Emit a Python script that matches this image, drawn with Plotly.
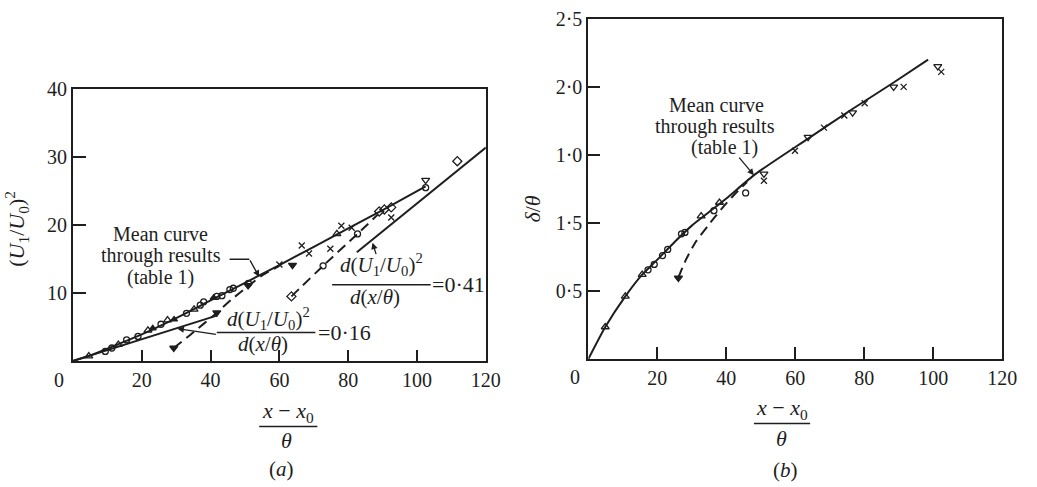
import plotly.graph_objects as go

# ---------------- Panel (a): (U1/U0)^2 vs (x-x0)/theta ----------------
a_mean_x = [0, 5, 10, 20, 30, 40, 50, 60, 70, 80, 90, 102.5]
a_mean_y = [0, 0.8, 1.8, 3.9, 6.3, 8.9, 11.5, 14.1, 16.8, 19.5, 22.2, 25.7]
a_s016_x = [0, 42]
a_s016_y = [0, 6.7]
a_s041_x = [82.5, 120]
a_s041_y = [16.0, 31.4]
a_dash1_x = [29.3, 35.2, 40.9, 46, 50.9, 55, 60]
a_dash1_y = [1.9, 4.3, 6.7, 9.0, 11.0, 12.6, 14.0]
a_dash2_x = [63.5, 72.7, 82.7, 88.5]
a_dash2_y = [9.5, 14.0, 18.7, 21.5]

a_circ_x = [9.4, 11.3, 15.6, 18.9, 25.6, 33.0, 37.0, 38.0, 41.8, 43.3, 45.6, 46.6, 51.0, 72.7, 82.7, 102.5]
a_circ_y = [1.4, 1.9, 3.1, 3.6, 5.4, 7.0, 8.2, 8.7, 9.5, 9.6, 10.5, 10.7, 11.4, 14.0, 18.7, 25.5]
a_tri_x = [4.6, 13.2, 21.8, 27.5, 35.2, 76.7]
a_tri_y = [0.7, 2.4, 4.5, 6.0, 7.6, 18.7]
a_trif_x = [23.2, 29.4, 40.9]
a_trif_y = [4.8, 6.1, 9.3]
a_tdf_x = [29.3, 41.8, 50.9, 63.8]
a_tdf_y = [1.9, 7.1, 11.1, 14.1]
a_cross_x = [60.0, 66.5, 68.6, 74.8, 78.0, 81.0, 92.5]
a_cross_y = [14.2, 17.0, 15.8, 16.5, 19.9, 19.6, 21.1]
a_tdo_x = [102.5]
a_tdo_y = [26.6]
a_diam_x = [63.5, 89.0, 90.5, 92.5, 111.7]
a_diam_y = [9.5, 22.0, 22.3, 22.6, 29.4]

# ---------------- Panel (b): delta/theta vs (x-x0)/theta ----------------
b_mean_x = [0, 4.9, 10.7, 15.6, 20, 25, 30, 35, 40, 48.5, 63.7, 76.1, 88.4, 98.5]
b_mean_y = [0, 0.235, 0.46, 0.62, 0.73, 0.86, 0.98, 1.08, 1.18, 1.36, 1.62, 1.83, 2.03, 2.2]
b_dash_x = [26.1, 28.3, 31.1, 34.7, 38.5, 42, 46]
b_dash_y = [0.6, 0.73, 0.86, 0.98, 1.1, 1.2, 1.3]

b_tri_x = [4.9, 10.7, 15.6, 32.7, 38.0]
b_tri_y = [0.235, 0.46, 0.62, 1.05, 1.15]
b_circ_x = [17.3, 19.1, 21.5, 23.0, 27.0, 28.0, 36.4, 45.6]
b_circ_y = [0.655, 0.695, 0.76, 0.805, 0.92, 0.93, 1.09, 1.22]
b_tdo_x = [50.9, 63.7, 76.6, 88.5, 101.3]
b_tdo_y = [1.36, 1.63, 1.81, 2.0, 2.15]
b_cross_x = [50.9, 59.9, 68.3, 74.2, 80.1, 91.4, 102.3]
b_cross_y = [1.31, 1.53, 1.70, 1.79, 1.88, 2.0, 2.11]
b_tdf_x = [26.1]
b_tdf_y = [0.595]

x_ticks = [0, 20, 40, 60, 80, 100, 120]
x_ticktext = ["", "20", "40", "60", "80", "100", "120"]
a_yticks = [10, 20, 30, 40]
a_yticktext = ["10", "20", "30", "40"]
b_yticks = [0.5, 1.0, 1.5, 2.0, 2.5]
b_yticktext = ["0·5", "1·5", "1·0", "2·0", "2·5"]

INK = "#1e1e1e"
FONT = "Liberation Serif, Times New Roman, DejaVu Serif, serif"
W, H = 1037, 487


def PX(px):
    return px / W


def PY(py):
    return 1 - py / H


fig = go.Figure()


def line(x, y, xa, ya, dash="solid", width=2):
    fig.add_trace(go.Scatter(x=x, y=y, xaxis=xa, yaxis=ya, mode="lines",
                             line=dict(color=INK, width=width, dash=dash, shape="spline", smoothing=0.6),
                             showlegend=False, hoverinfo="skip"))


def marks(x, y, xa, ya, symbol, size=7):
    fig.add_trace(go.Scatter(x=x, y=y, xaxis=xa, yaxis=ya, mode="markers",
                             marker=dict(symbol=symbol, size=size, color=INK,
                                         line=dict(color=INK, width=1.3)),
                             showlegend=False, hoverinfo="skip"))


# panel a
line(a_mean_x, a_mean_y, "x", "y")
line(a_s016_x, a_s016_y, "x", "y")
line(a_s041_x, a_s041_y, "x", "y")
line(a_dash1_x, a_dash1_y, "x", "y", dash="10px,6px")
line(a_dash2_x, a_dash2_y, "x", "y", dash="10px,6px")
marks(a_circ_x, a_circ_y, "x", "y", "circle-open", 6)
marks(a_tri_x, a_tri_y, "x", "y", "triangle-up-open", 7)
marks(a_trif_x, a_trif_y, "x", "y", "triangle-up", 6)
marks(a_tdf_x, a_tdf_y, "x", "y", "triangle-down", 7)
marks(a_cross_x, a_cross_y, "x", "y", "x-thin-open", 6)
marks(a_tdo_x, a_tdo_y, "x", "y", "triangle-down-open", 7)
marks(a_diam_x, a_diam_y, "x", "y", "diamond-open", 7)

# panel b
line(b_mean_x, b_mean_y, "x2", "y2")
line(b_dash_x, b_dash_y, "x2", "y2", dash="10px,6px")
marks(b_tri_x, b_tri_y, "x2", "y2", "triangle-up-open", 7)
marks(b_circ_x, b_circ_y, "x2", "y2", "circle-open", 6)
marks(b_tdo_x, b_tdo_y, "x2", "y2", "triangle-down-open", 7)
marks(b_cross_x, b_cross_y, "x2", "y2", "x-thin-open", 6)
marks(b_tdf_x, b_tdf_y, "x2", "y2", "triangle-down", 7)

axis_common = dict(showline=True, linecolor=INK, linewidth=2, mirror=True, showgrid=False,
                   zeroline=False, ticks="inside", tickcolor=INK, tickwidth=1.6,
                   ticklabeloverflow="allow",
                   tickfont=dict(family=FONT, size=20, color=INK))

fig.update_layout(
    width=W, height=H, margin=dict(l=0, r=0, t=0, b=0),
    paper_bgcolor="white", plot_bgcolor="white",
    font=dict(family=FONT, color=INK),
    xaxis=dict(domain=[PX(74), PX(493)], range=[0, 120], anchor="y", tickvals=x_ticks,
               ticktext=x_ticktext, ticklen=11, **axis_common),
    yaxis=dict(domain=[PY(358), PY(80)], range=[0, 40], anchor="x", tickvals=a_yticks,
               ticktext=a_yticktext, ticklen=13, **axis_common),
    xaxis2=dict(domain=[PX(597), PX(1017)], range=[0, 120], anchor="y2", tickvals=x_ticks,
                ticktext=x_ticktext, ticklen=12, **axis_common),
    yaxis2=dict(domain=[PY(356), PY(8)], range=[0, 2.5], anchor="x2", tickvals=b_yticks,
                ticktext=b_yticktext, ticklen=12, **axis_common),
)

ann = []


def text(px, py, s, size=20, angle=0, xanchor="center"):
    ann.append(dict(x=PX(px), y=PY(py), xref="paper", yref="paper", text=s, showarrow=False,
                    xanchor=xanchor, yanchor="middle", textangle=angle,
                    font=dict(family=FONT, size=size, color=INK)))


def arrow(tipx, tipy, fromx, fromy):
    ann.append(dict(x=PX(tipx), y=PY(tipy), xref="paper", yref="paper", text="",
                    showarrow=True, ax=fromx - tipx, ay=fromy - tipy, arrowhead=2,
                    arrowsize=1, arrowwidth=1.3, arrowcolor=INK))


shapes = []


def seg(x0, y0, x1, y1, w=1.5):
    shapes.append(dict(type="line", xref="paper", yref="paper", x0=PX(x0), y0=PY(y0),
                       x1=PX(x1), y1=PY(y1), line=dict(color=INK, width=w)))


# corner zeros
text(60, 378, "0", 20)
text(583, 374, "0", 20)

# Panel a labels
text(163, 228, "Mean curve", 20)
text(163, 250, "through results", 20)
text(163, 273, "(table 1)", 20)
seg(233, 254, 253, 254)
arrow(263, 272, 253, 254)

NUM = "<i>d</i>(<i>U</i><sub>1</sub>/<i>U</i><sub>0</sub>)<sup>2</sup>"
DEN = "<i>d</i>(<i>x</i>/<i>θ</i>)"

text(272, 315, NUM, 21)
seg(220, 329, 320, 329)
text(267, 341, DEN, 21)
text(350, 329, "=0·16", 22)
arrow(180, 325, 220, 331)

text(387, 259, NUM, 21)
seg(337, 280, 437, 280)
text(380, 293, DEN, 21)
text(465, 280, "=0·41", 22)
arrow(378, 237, 382, 250)

# Axis titles a
text(17, 223, "(<i>U</i><sub>1</sub>/<i>U</i><sub>0</sub>)<sup>2</sup>", 22, angle=-90)
text(292, 410, "<i>x</i> − <i>x</i><sub>0</sub>", 22)
seg(263, 425, 322, 425)
text(291, 439, "<i>θ</i>", 22)
text(286, 469, "(<i>a</i>)", 21)

# Panel b labels
text(727, 96, "Mean curve", 20)
text(725, 118, "through results", 20)
text(735, 140, "(table 1)", 20)
arrow(765, 168, 749, 149)

text(540, 203, "<i>δ</i>/<i>θ</i>", 22, angle=-90)
text(793, 407, "<i>x</i> − <i>x</i><sub>0</sub>", 22)
seg(765, 422, 822, 422)
text(793, 437, "<i>θ</i>", 22)
text(797, 470, "(<i>b</i>)", 21)

fig.update_layout(annotations=ann, shapes=shapes)
fig.write_html("out.html", config={"displayModeBar": False},
               post_script="document.body.style.margin='0';document.body.style.overflow='hidden';")
